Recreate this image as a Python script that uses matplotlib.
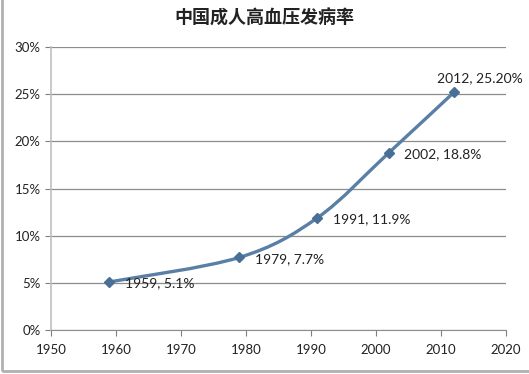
import matplotlib

matplotlib.use("Agg")
import matplotlib.pyplot as plt
from matplotlib.path import Path
from matplotlib.patches import PathPatch, Rectangle
from matplotlib.ticker import PercentFormatter

# 数据
years = [1959, 1979, 1991, 2002, 2012]
rates = [5.1, 7.7, 11.9, 18.8, 25.2]
labels = ["1959, 5.1%", "1979, 7.7%", "1991, 11.9%", "2002, 18.8%", "2012, 25.20%"]
title = "中国成人高血压发病率"

LINE_COLOR = "#5a7fa6"
MARK_COLOR = "#4a6f96"
GRID_COLOR = "#8c8c8c"


# Excel 风格平滑线：Catmull-Rom 转贝塞尔
def smooth_path(xs, ys, tension=1 / 6):
    pts = list(zip(xs, ys))
    verts = [pts[0]]
    codes = [Path.MOVETO]
    for i in range(len(pts) - 1):
        p0 = pts[i - 1] if i > 0 else pts[i]
        p1 = pts[i]
        p2 = pts[i + 1]
        p3 = pts[i + 2] if i + 2 < len(pts) else pts[i + 1]
        c1 = (p1[0] + (p2[0] - p0[0]) * tension, p1[1] + (p2[1] - p0[1]) * tension)
        c2 = (p2[0] - (p3[0] - p1[0]) * tension, p2[1] - (p3[1] - p1[1]) * tension)
        verts += [c1, c2, p2]
        codes += [Path.CURVE4] * 3
    return Path(verts, codes)


fig = plt.figure(figsize=(5.29, 3.74), dpi=100)
ax = fig.add_axes([0.0964, 0.1176, 0.86, 0.7567])

ax.set_xlim(1950, 2020)
ax.set_ylim(0, 30)
ax.set_xticks(range(1950, 2021, 10))
ax.set_yticks(range(0, 31, 5))
ax.yaxis.set_major_formatter(PercentFormatter(decimals=0))

ax.grid(axis="y", color=GRID_COLOR, linewidth=0.9)
ax.set_axisbelow(True)
for side in ["top", "right"]:
    ax.spines[side].set_visible(False)
ax.spines["left"].set_color("#c0c0c0")
ax.spines["left"].set_linewidth(1.2)
ax.spines["bottom"].set_color(GRID_COLOR)
ax.tick_params(axis="both", colors="#7f7f7f", length=4, width=0.8, labelsize=9.5,
               labelcolor="#222222")
ax.tick_params(axis="x", pad=6)
for t in ax.get_xticklabels() + ax.get_yticklabels():
    t.set_fontfamily("Lato")

patch = PathPatch(smooth_path(years, rates), facecolor="none", edgecolor=LINE_COLOR,
                  linewidth=2.4, capstyle="round")
ax.add_patch(patch)
ax.plot(years, rates, linestyle="none", marker="D", markersize=5.5,
        color=MARK_COLOR, zorder=3)

for i, (x, y, s) in enumerate(zip(years, rates, labels)):
    if i == len(years) - 1:
        ax.annotate(s, (x, y), xytext=(-12, 6), textcoords="offset points",
                    ha="left", va="bottom", fontsize=10, family="Lato", color="#222222")
    else:
        ax.annotate(s, (x, y), xytext=(11, -1), textcoords="offset points",
                    ha="left", va="center", fontsize=10, family="Lato", color="#222222")

fig.text(0.5, 0.952, title, ha="center", va="center", fontsize=13,
         fontweight="bold", family=["Noto Sans CJK SC", "DejaVu Sans"], color="#222222")

# 截图边框
fig.add_artist(Rectangle((0.004, 0.008), 2, 2, transform=fig.transFigure,
                         facecolor="none", edgecolor="#b0b0b0", linewidth=2.0))

fig.savefig("out.png", dpi=100)
